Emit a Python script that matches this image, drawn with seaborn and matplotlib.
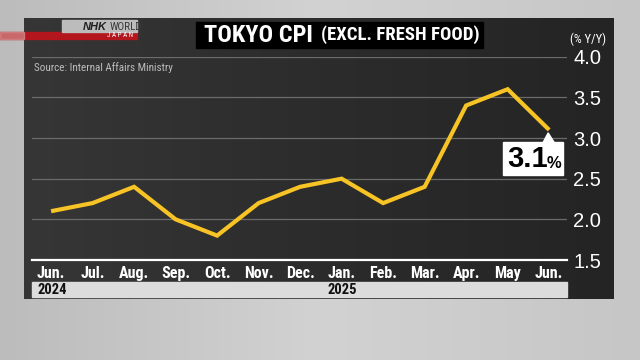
"""
Tokyo core CPI (excl. fresh food), % y/y, Jun 2024 - Jun 2025.
NHK World style dark panel with yellow line.
"""

import numpy as np
import pandas as pd
import matplotlib
matplotlib.use("Agg")
import matplotlib.pyplot as plt
import seaborn as sns
from matplotlib.patches import Rectangle, Polygon
from matplotlib.colors import LinearSegmentedColormap

# ---------------------------- DATA -----------------------------------

months = ["Jun.", "Jul.", "Aug.", "Sep.", "Oct.", "Nov.", "Dec.",
          "Jan.", "Feb.", "Mar.", "Apr.", "May", "Jun."]
cpi_yoy = [2.1, 2.2, 2.4, 2.0, 1.8, 2.2, 2.4, 2.5, 2.2, 2.4, 3.4, 3.6, 3.1]
year_labels = ["2024", "2025"]
year_start_idx = [0, 7]
y_ticks = [1.5, 2.0, 2.5, 3.0, 3.5, 4.0]

TITLE_MAIN = "TOKYO CPI"
TITLE_SUB = "(EXCL. FRESH FOOD)"
SOURCE = "Source: Internal Affairs Ministry"
UNIT = "(% Y/Y)"

# ---------------------------- STYLE ----------------------------------

W, H, DPI = 640, 360, 100
LINE_COLOR = "#f7c325"
GRID_COLOR = "#6b6b6b"
NARROW = ["Roboto Condensed", "Liberation Sans Narrow", "DejaVu Sans"]
WIDE = ["Liberation Sans", "DejaVu Sans"]

sns.set_theme(style="dark")
plt.rcParams["font.family"] = NARROW
plt.rcParams["font.stretch"] = "condensed"


def pixel_axes(fig, z):
    a = fig.add_axes([0, 0, 1, 1])
    a.set_xlim(0, W)
    a.set_ylim(H, 0)
    a.axis("off")
    a.set_zorder(z)
    return a


def main():
    df = pd.DataFrame({"pos": np.arange(len(months)), "month": months, "cpi": cpi_yoy})

    fig = plt.figure(figsize=(W / DPI, H / DPI), dpi=DPI)

    # background layer in pixel coordinates (decorations only)
    bg = pixel_axes(fig, 0)
    grad = np.linspace(0, 1, 256).reshape(1, -1)
    bg.imshow(grad, cmap=LinearSegmentedColormap.from_list(
        "g", ["#bcbcbc", "#d2d2d2", "#c6c6c6"]), extent=[0, W, H, 0], aspect="auto", zorder=0)
    bg.imshow(grad, cmap=LinearSegmentedColormap.from_list(
        "p", ["#363636", "#2c2c2c", "#242424"]), extent=[24, 614, 299, 18],
        aspect="auto", zorder=1)

    # NHK logo
    bg.add_patch(Rectangle((0, 32), 137, 6.5, color="#b3161d", zorder=2))
    bg.add_patch(Rectangle((0, 32), 24, 6.5, color="#d9a0a0", alpha=0.6, zorder=2))
    bg.add_patch(Rectangle((62, 20), 75, 11.5, color="#bcbcbc", zorder=2))
    bg.text(107, 26.5, "NHK", ha="right", va="center", fontsize=8, color="#222222",
            fontweight="bold", style="italic", family=WIDE, zorder=3)
    bg.text(110, 26.5, "WORLD", ha="left", va="center", fontsize=8, color="#3a3a3a",
            zorder=3)
    bg.text(133, 35.5, "J A P A N", ha="right", va="center", fontsize=5, color="white",
            zorder=3)

    # title box
    bg.add_patch(Rectangle((196, 22), 287, 26, color="black", zorder=2))
    t_main = bg.text(204, 35.5, TITLE_MAIN, ha="left", va="center", fontsize=17.5,
                     color="white", fontweight="bold", zorder=3)
    bg.annotate(TITLE_SUB, xy=(1, 0.5), xycoords=t_main, xytext=(6, 0.5),
                textcoords="offset points", ha="left", va="center", fontsize=13.5,
                color="white", fontweight="bold", zorder=3)

    bg.text(34, 68, SOURCE, ha="left", va="center", fontsize=8, color="#bdbdbd", zorder=3)
    bg.text(588, 39, UNIT, ha="center", va="center", fontsize=9, color="white", zorder=3)

    # main chart axes
    ax = fig.add_axes([32 / W, 100 / H, (567 - 32) / W, (260 - 56.7) / H])
    ax.set_facecolor("none")
    ax.set_zorder(5)

    sns.lineplot(data=df, x="pos", y="cpi", ax=ax, color=LINE_COLOR, linewidth=3.0,
                 solid_joinstyle="miter", solid_capstyle="butt")
    for ln in ax.lines:
        ln.set_clip_on(False)

    ax.set_xlim(-0.46, len(months) - 1 + 0.43)
    ax.set_ylim(y_ticks[0], y_ticks[-1])
    ax.set_xlabel("")
    ax.set_ylabel("")

    ax.set_yticks(y_ticks)
    ax.set_yticklabels([f"{v:.1f}" for v in y_ticks])
    ax.yaxis.tick_right()
    ax.tick_params(axis="y", length=0, pad=4.5, labelsize=14.5, labelcolor="white")
    for lbl in ax.get_yticklabels():
        lbl.set_family(WIDE)
    ax.yaxis.grid(True, color=GRID_COLOR, linewidth=0.9)
    ax.xaxis.grid(False)

    ax.set_xticks(df["pos"])
    ax.set_xticklabels(df["month"])
    ax.tick_params(axis="x", direction="in", length=3, width=0.8, color="white",
                   pad=4, labelsize=11.5, labelcolor="white")
    for lbl in ax.get_xticklabels():
        lbl.set_fontweight("bold")

    for side in ["top", "left", "right"]:
        ax.spines[side].set_visible(False)
    ax.spines["bottom"].set_color("white")
    ax.spines["bottom"].set_linewidth(1.6)

    # year band below month labels
    bg.add_patch(Rectangle((32, 282), 535, 15, color="#dcdcdc", zorder=2))
    for lab, idx in zip(year_labels, year_start_idx):
        px, _ = ax.transData.transform((idx, y_ticks[0]))
        bg.text(px - 14, 290, lab, ha="left", va="center", fontsize=10.5, color="#111111",
                fontweight="bold", zorder=3)

    # call-out for the latest value, drawn above the chart layer
    cal = pixel_axes(fig, 6)
    last_x, last_y = len(cpi_yoy) - 1, cpi_yoy[-1]
    dx, dy = ax.transData.transform((last_x, last_y))
    dy = H - dy
    bx0, bw, bh = dx - 46, 60, 33
    by0 = dy + 12
    cal.add_patch(Rectangle((bx0, by0), bw, bh, color="white"))
    cal.add_patch(Polygon([(dx - 1, dy + 3), (dx - 6, by0 + 0.5), (dx + 5, by0 + 0.5)],
                          closed=True, color="white"))
    cal.text(bx0 + 4, by0 + bh / 2 + 1, f"{last_y:.1f}", ha="left", va="center",
             fontsize=21, color="black", fontweight="bold", family=WIDE)
    cal.text(bx0 + bw - 2, by0 + bh / 2 + 5, "%", ha="right", va="center",
             fontsize=12, color="black", fontweight="bold", family=WIDE)

    fig.savefig("out.png", dpi=DPI)
    plt.close(fig)


if __name__ == "__main__":
    main()
